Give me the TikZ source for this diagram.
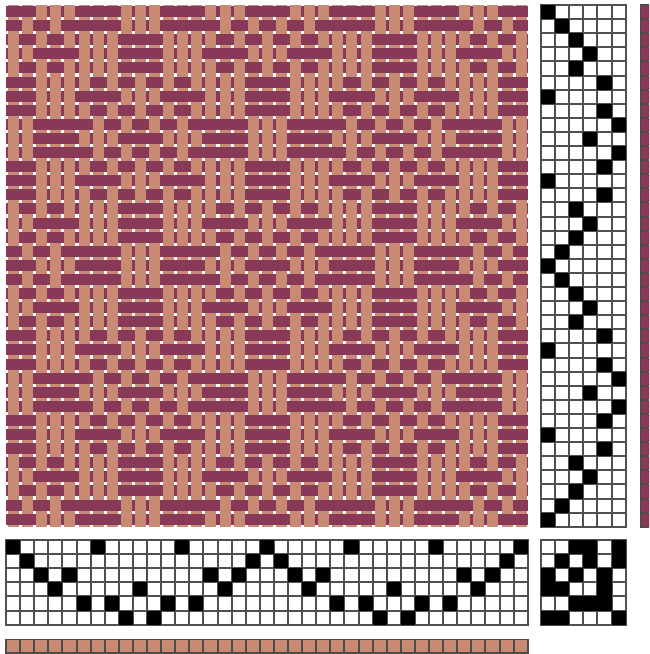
\documentclass[tikz,border=0pt]{standalone}
\definecolor{weft}{RGB}{135,57,87}
\definecolor{warp}{RGB}{201,138,116}
\definecolor{gridc}{RGB}{80,80,80}
\tikzset{
  coreweft/.style={fill=weft},
  corewarp/.style={fill=warp},
  gridback/.style={fill=gridc},
  barback/.style={fill=black!70},
  whitecell/.style={fill=white},
  blackcell/.style={fill=black}
}
\def\thr{{0,1,2,3,2,4,0,4,5,3,5,4,0,4,2,3,2,1}}
\def\tie{{{0,0,1,1,0,1},{0,1,0,1,0,1},{1,0,1,0,1,0},{1,1,0,0,1,0},{0,0,1,1,1,0},{1,1,0,0,0,1}}}
% one cell of a grid: left, top, column, row, style
\newcommand{\gridcellat}[5]{%
  \path[#5] ({#1+g(#3)+1.1},{#2+g(#4)+1.1}) rectangle ({#1+g(#3+1)-1.1},{#2+g(#4+1)-1.1});}
\newcommand{\markat}[4]{%
  \path[blackcell] ({#1+g(#3)+.1},{#2+g(#4)+.1}) rectangle ({#1+g(#3+1)-.1},{#2+g(#4+1)-.1});}
\begin{document}
\begin{tikzpicture}[x=1pt,y=-1pt,declare function={g(\k)=round(\k*14.1);}]
\useasboundingbox (0,0) rectangle (649,654);
\fill[white] (0,0) rectangle (649,654);
\clip (0,0) rectangle (649,654);
% warp strips
\foreach \i in {0,...,36}{
  \path[corewarp] ({8.1+g(\i)},5.1) rectangle ({18.9+g(\i)},526.9);
}
% weft strips
\foreach \j in {0,...,36}{
  \path[coreweft] (6.1,{6.1+g(\j)}) rectangle (527.9,{16.9+g(\j)});
}
% warp over weft
\foreach \j in {0,...,36}{
  \pgfmathtruncatemacro{\tr}{\thr[mod(\j,18)]}
  \foreach \i in {0,...,36}{
    \pgfmathtruncatemacro{\sh}{\thr[mod(\i,18)]}
    \pgfmathtruncatemacro{\up}{\tie[\sh][\tr]}
    \ifnum\up=1
      \path[corewarp] ({8.1+g(\i)},{6.1+g(\j)}) rectangle ({18.9+g(\i)},{16.9+g(\j)});
    \fi
  }
}
% backgrounds of grids and bars
\path[gridback] (5.1,539.1) rectangle ({6.9+g(37)},{540.9+g(6)});
\path[gridback] (540.1,4.1) rectangle ({541.9+g(6)},{5.9+g(37)});
\path[gridback] (540.1,539.1) rectangle ({541.9+g(6)},{540.9+g(6)});
\path[barback] (5.1,639.1) rectangle ({6.9+g(37)},654);
\path[barback] (640.1,4.1) rectangle (654,{5.9+g(37)});
% threading grid and colour bar
\foreach \i in {0,...,36}{
  \foreach \r in {0,...,5}{
    \gridcellat{6}{540}{\i}{\r}{whitecell}
  }
  \gridcellat{6}{639}{\i}{0}{corewarp}
}
% treadling grid and colour bar
\foreach \j in {0,...,36}{
  \foreach \c in {0,...,5}{
    \gridcellat{541}{5}{\c}{\j}{whitecell}
  }
  \gridcellat{640}{5}{0}{\j}{coreweft}
}
% tie-up grid
\foreach \r in {0,...,5}{
  \foreach \c in {0,...,5}{
    \gridcellat{541}{540}{\c}{\r}{whitecell}
  }
}
% marks
\foreach \i in {0,...,36}{
  \pgfmathtruncatemacro{\sh}{\thr[mod(\i,18)]}
  \markat{6}{540}{\i}{\sh}
  \markat{541}{5}{\sh}{\i}
}
\foreach \r in {0,...,5}{
  \foreach \c in {0,...,5}{
    \pgfmathtruncatemacro{\v}{\tie[\r][\c]}
    \ifnum\v=1
      \markat{541}{540}{\c}{\r}
    \fi
  }
}
\end{tikzpicture}
\end{document}
